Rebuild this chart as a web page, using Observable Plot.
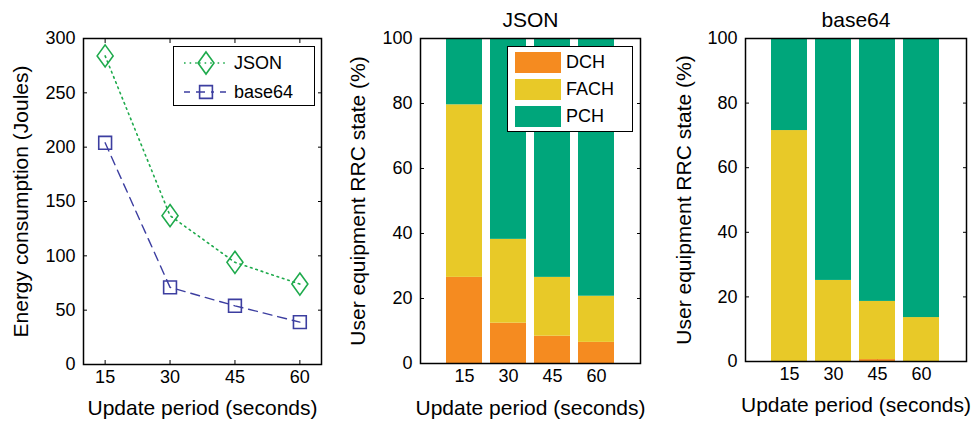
<!DOCTYPE html>
<html>
<head>
<meta charset="utf-8">
<script src="https://cdn.jsdelivr.net/npm/d3@7"></script>
<script src="https://cdn.jsdelivr.net/npm/@observablehq/plot@0.6"></script>
<style>
  body { margin: 0; background: #fff; }
  #fig { position: relative; width: 971px; height: 423px; font-family: "Liberation Sans", Arial, Helvetica, sans-serif; }
  #fig > svg, #fig > .legend { position: absolute; }
  .legend { background: #fff; border: 1.5px solid #000; box-sizing: border-box; font-size: 18px; }
  .legend .row { position: absolute; display: flex; align-items: center; }
</style>
</head>
<body>
<div id="fig"></div>
<script>
// Update periods (seconds)
const periods = [15, 30, 45, 60];

// Energy consumption (Joules) for each payload encoding
const energyJSON = [284, 137, 94, 74];
const energyBase64 = [204, 71, 54, 39];

// Share of time in each RRC state (%)
const states = ["DCH", "FACH", "PCH"];
const stateColors = ["#f58b20", "#e8c928", "#00a67b"];
const jsonDCH = [26.5, 12.4, 8.4, 6.5];
const jsonFACH = [53.1, 25.8, 18.1, 14.2];
const jsonPCH = [20.4, 61.8, 73.5, 79.3];
const b64DCH = [0, 0, 0.6, 0];
const b64FACH = [71.5, 25.1, 18.0, 13.6];
const b64PCH = [28.5, 74.9, 81.4, 86.4];

const energyTicks = [0, 50, 100, 150, 200, 250, 300];
const shareTicks = [0, 20, 40, 60, 80, 100];

const seriesColor = {JSON: "#1eaa4c", base64: "#3c3ea0"};

// Marker shapes: a tall diamond and an open square
const tallDiamond = {
  draw(ctx, size) {
    const r = Math.sqrt(size / Math.PI);
    ctx.moveTo(0, -1.38 * r); ctx.lineTo(r, 0); ctx.lineTo(0, 1.38 * r); ctx.lineTo(-r, 0); ctx.closePath();
  }
};
const openSquare = {
  draw(ctx, size) {
    const h = 0.8 * Math.sqrt(size / Math.PI);
    ctx.moveTo(-h, -h); ctx.lineTo(h, -h); ctx.lineTo(h, h); ctx.lineTo(-h, h); ctx.closePath();
  }
};

const fig = document.getElementById("fig");
const FONT = "Liberation Sans, Arial, Helvetica, sans-serif";

// Inward-pointing ticks on all four sides, MATLAB style
function boxTicks(xTicks, yTicks) {
  const t = 4;
  return [
    Plot.axisX(xTicks, {anchor: "bottom", tickSize: t, dy: -t, fill: "none"}),
    Plot.axisX(xTicks, {anchor: "top", tickSize: t, dy: t, fill: "none"}),
    Plot.axisY(yTicks, {anchor: "left", tickSize: t, dx: t, fill: "none"}),
    Plot.axisY(yTicks, {anchor: "right", tickSize: t, dx: -t, fill: "none"})
  ];
}

function labels(xLabel, yLabel, yDx, xDy, title) {
  const common = {fontSize: 21, text: d => d, lineAnchor: "middle", textAnchor: "middle"};
  const m = [
    Plot.text([xLabel], {...common, frameAnchor: "bottom", dy: xDy}),
    Plot.text([yLabel], {...common, frameAnchor: "left", dx: yDx, rotate: -90})
  ];
  if (title) m.push(Plot.text([title], {...common, frameAnchor: "top", dy: -18.5}));
  return m;
}

// ---- Panel 1: energy consumption lines ----
const energyRows = periods.flatMap((p, i) => [
  {period: p, energy: energyJSON[i], format: "JSON"},
  {period: p, energy: energyBase64[i], format: "base64"}
]);
const jsonRows = energyRows.filter(d => d.format === "JSON");
const b64Rows = energyRows.filter(d => d.format === "base64");

const p1 = Plot.plot({
  width: 330, height: 423,
  marginLeft: 83, marginRight: 9, marginTop: 38, marginBottom: 59,
  style: {fontFamily: FONT, fontSize: "18px", color: "#000", background: "transparent", overflow: "visible"},
  x: {type: "linear", domain: [10, 65]},
  y: {domain: [0, 300]},
  marks: [
    ...boxTicks(periods, energyTicks),
    Plot.axisX(periods, {tickSize: 0, tickPadding: 6, label: null}),
    Plot.axisY(energyTicks, {tickSize: 0, tickPadding: 8, label: null}),
    Plot.line(jsonRows, {x: "period", y: "energy", stroke: seriesColor.JSON, strokeWidth: 1.6, strokeDasharray: "1.6 4"}),
    Plot.line(b64Rows, {x: "period", y: "energy", stroke: seriesColor.base64, strokeWidth: 1.4, strokeDasharray: "9 6"}),
    Plot.dot(jsonRows, {x: "period", y: "energy", symbol: tallDiamond, r: 8, stroke: seriesColor.JSON, strokeWidth: 1.6, fill: "none"}),
    Plot.dot(b64Rows, {x: "period", y: "energy", symbol: openSquare, r: 8, stroke: seriesColor.base64, strokeWidth: 1.6, fill: "none"}),
    Plot.frame({stroke: "#000", strokeWidth: 1.5}),
    ...labels("Update period (seconds)", "Energy consumption (Joules)", -62, 44)
  ]
});
p1.style.left = "0px"; p1.style.top = "0px";
fig.appendChild(p1);

// ---- Panels 2 and 3: stacked RRC state shares ----
function stateRows(dch, fach, pch) {
  return periods.flatMap((p, i) => [
    {period: p, state: "DCH", share: dch[i]},
    {period: p, state: "FACH", share: fach[i]},
    {period: p, state: "PCH", share: pch[i]}
  ]);
}

function statePanel(rows, title, left, width, ml, mr, mb, yDx, xDy) {
  const svg = Plot.plot({
    width, height: 423,
    marginLeft: ml, marginRight: mr, marginTop: 38, marginBottom: mb,
    style: {fontFamily: FONT, fontSize: "18px", color: "#000", background: "transparent", overflow: "visible"},
    x: {type: "band", domain: periods, padding: 0.18, insetLeft: 18, insetRight: 18},
    y: {domain: [0, 100]},
    color: {domain: states, range: stateColors},
    marks: [
      ...boxTicks(periods, shareTicks),
      Plot.barY(rows, {x: "period", y: "share", fill: "state", order: states}),
      Plot.axisX(periods, {tickSize: 0, tickPadding: 6, label: null}),
      Plot.axisY(shareTicks, {tickSize: 0, tickPadding: 8, label: null}),
      Plot.frame({stroke: "#000", strokeWidth: 1.5}),
      ...labels("Update period (seconds)", "User equipment RRC state (%)", yDx, xDy, title)
    ]
  });
  svg.style.left = left + "px"; svg.style.top = "0px";
  fig.appendChild(svg);
}

statePanel(stateRows(jsonDCH, jsonFACH, jsonPCH), "JSON", 330, 320, 90, 10, 60, -62, 44.5);
statePanel(stateRows(b64DCH, b64FACH, b64PCH), "base64", 650, 321, 95, 5, 62, -61.5, 44);

// ---- Legends ----
function lineLegend() {
  const box = document.createElement("div");
  box.className = "legend";
  Object.assign(box.style, {left: "173px", top: "46px", width: "142px", height: "60px"});
  const items = [
    {name: "JSON", dash: "1.6 4", symbol: tallDiamond, y: 16},
    {name: "base64", dash: "6 6", symbol: openSquare, y: 45}
  ];
  for (const it of items) {
    const row = document.createElement("div");
    row.className = "row";
    Object.assign(row.style, {left: "8px", top: (it.y - 12) + "px", height: "24px"});
    const color = seriesColor[it.name];
    const sym = d3.symbol(it.symbol, Math.PI * 64)();
    row.innerHTML =
      `<svg width="48" height="24" style="overflow:visible">
         <line x1="2" x2="46" y1="12" y2="12" stroke="${color}" stroke-width="1.5" stroke-dasharray="${it.dash}"/>
         <path d="${sym}" transform="translate(24,12)" fill="#fff" stroke="${color}" stroke-width="1.6"/>
         <line x1="17" x2="31" y1="12" y2="12" stroke="${color}" stroke-width="1.5" stroke-dasharray="${it.dash}"/>
       </svg><span style="margin-left:4px">${it.name}</span>`;
    box.appendChild(row);
  }
  fig.appendChild(box);
}

function stateLegend() {
  const box = document.createElement("div");
  box.className = "legend";
  Object.assign(box.style, {left: "507px", top: "46px", width: "126px", height: "86px"});
  states.forEach((s, i) => {
    const row = document.createElement("div");
    row.className = "row";
    Object.assign(row.style, {left: "7px", top: (4 + i * 27) + "px", height: "22px"});
    row.innerHTML = `<span style="display:inline-block;width:46px;height:21px;background:${stateColors[i]}"></span><span style="margin-left:5px">${s}</span>`;
    box.appendChild(row);
  });
  fig.appendChild(box);
}

lineLegend();
stateLegend();
</script>
</body>
</html>
